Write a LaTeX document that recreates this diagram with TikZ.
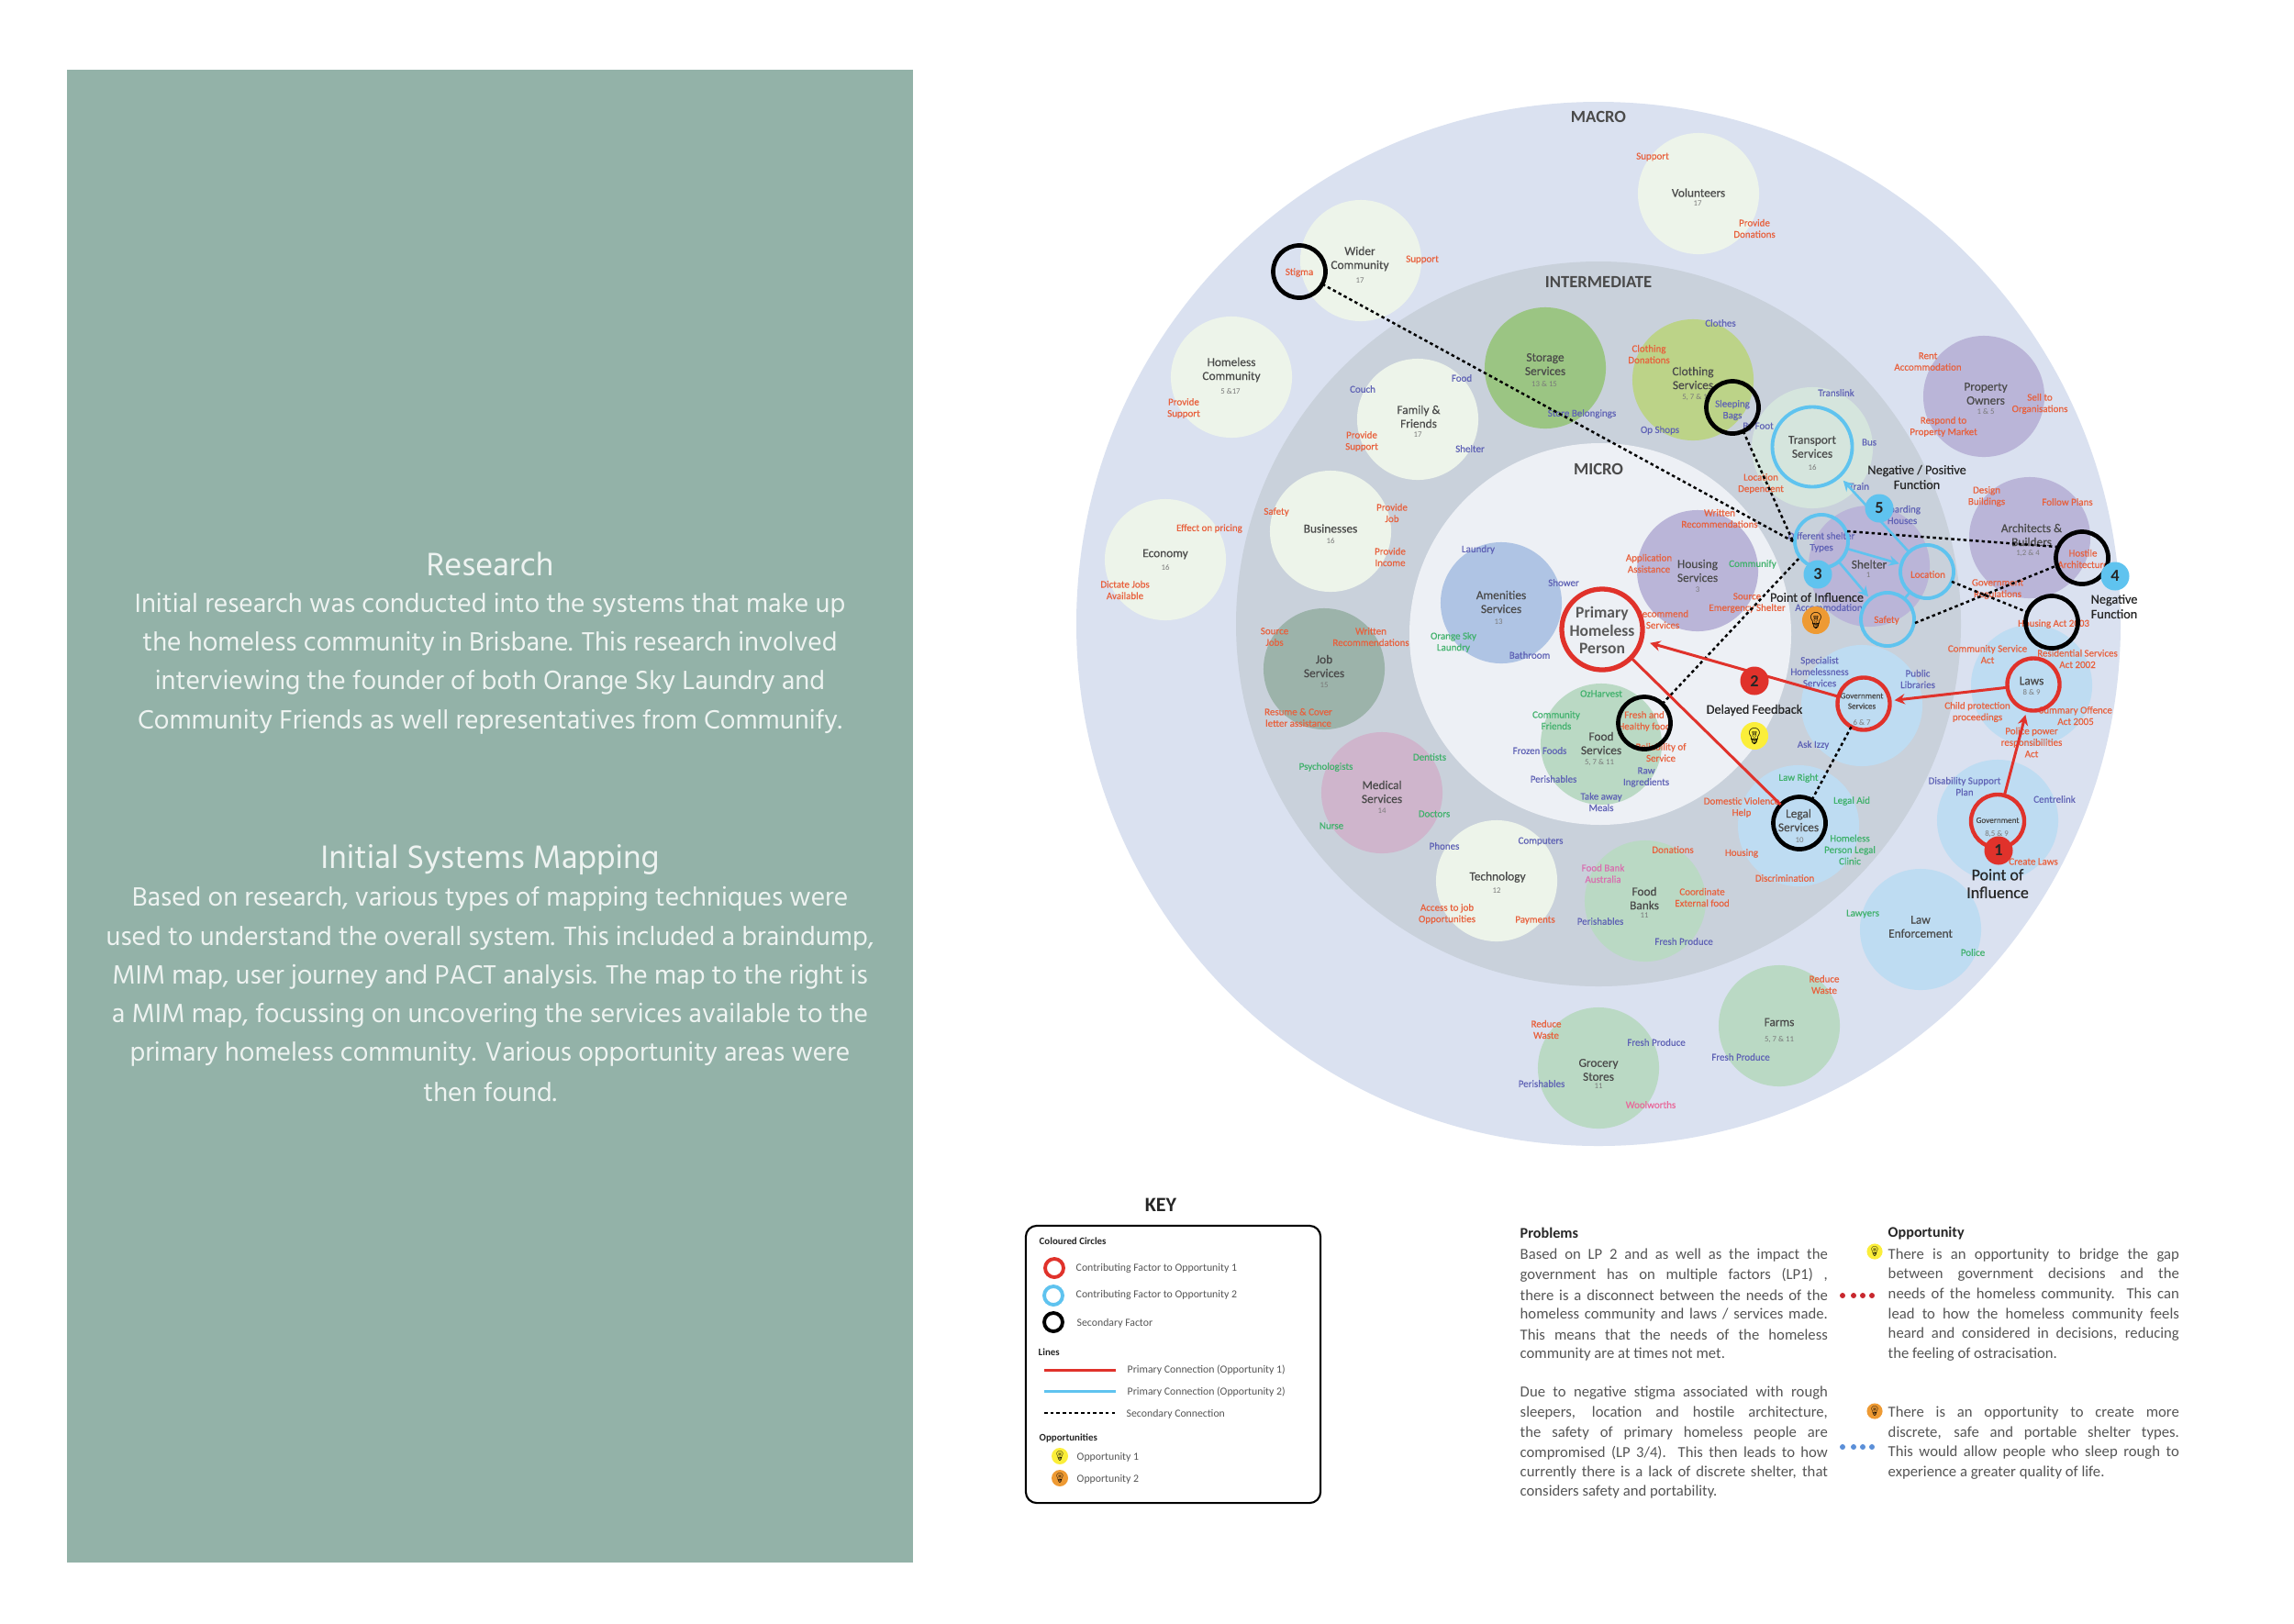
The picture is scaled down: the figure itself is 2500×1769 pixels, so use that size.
\documentclass[tikz,border=0pt]{standalone}
\usepackage{fontspec}
\setmainfont{Carlito}
\newfontfamily\panelf{Hind Madurai}
\newfontfamily\emo{Noto Emoji}
\newfontfamily\lf[FakeBold=0.3]{Carlito}
\usetikzlibrary{arrows.meta}
\definecolor{panel}{HTML}{93B2A8}
\definecolor{panelt}{HTML}{EEF3F1}
\definecolor{macroc}{HTML}{DAE1F0}
\definecolor{interc}{HTML}{C9D1DB}
\definecolor{microc}{HTML}{EDF0F5}
\definecolor{paleg}{HTML}{EDF4EA}
\definecolor{storg}{HTML}{9BC583}
\definecolor{cloth}{HTML}{BCD388}
\definecolor{trans}{HTML}{D5E5DD}
\definecolor{purp}{HTML}{BAB5D8}
\definecolor{jobc}{HTML}{9CB3AA}
\definecolor{medc}{HTML}{CFB5CC}
\definecolor{amen}{HTML}{AFC4E4}
\definecolor{foodc}{HTML}{BAD9C4}
\definecolor{lawc}{HTML}{BEDCF2}
\definecolor{lred}{HTML}{E8603C}
\definecolor{lblue}{HTML}{5F62B5}
\definecolor{lgreen}{HTML}{3FB16B}
\definecolor{lpink}{HTML}{D96FB0}
\definecolor{lwool}{HTML}{E9689A}
\definecolor{rred}{HTML}{E0322B}
\definecolor{rblue}{HTML}{5FC3EF}
\definecolor{dotr}{HTML}{C8282E}
\definecolor{dotb}{HTML}{5B8FD8}
\definecolor{txtg}{HTML}{4A4A4A}
\definecolor{numg}{HTML}{7A7A7A}
\definecolor{bodyg}{HTML}{555555}
\definecolor{yel}{HTML}{FBEE3A}
\definecolor{org}{HTML}{EE9A33}
\tikzset{
  blob/.style={circle,fill=#1,draw=none,minimum size=1.32cm,inner sep=0pt,outer sep=0pt},
  ringk/.style={circle,draw=black,line width=1.34pt,minimum size=.57cm,inner sep=0pt,outer sep=0pt},
  ringb/.style={circle,draw=rblue,line width=1.1pt,minimum size=.58cm,inner sep=0pt,outer sep=0pt},
  ringr/.style={circle,draw=rred,line width=1.25pt,minimum size=.57cm,inner sep=0pt,outer sep=0pt},
  badge/.style={circle,fill=#1,minimum size=.31cm,inner sep=0pt,outer sep=0pt,font=\fontsize{5.2pt}{6pt}\selectfont\bfseries,text=black!85},
  lbase/.style={align=center,inner sep=0pt,font=\fontsize{3.12pt}{3.55pt}\selectfont\lf},
  red/.style={lbase,text=lred},
  blu/.style={lbase,text=lblue},
  grn/.style={lbase,text=lgreen},
  pnk/.style={lbase,text=lpink},
  wol/.style={lbase,text=lwool},
  svc/.style={text=txtg,align=center,inner sep=0pt,font=\fontsize{3.8pt}{4.28pt}\selectfont\lf},
  sml/.style={text=txtg,align=center,inner sep=0pt,font=\fontsize{2.6pt}{3.2pt}\selectfont\lf},
  num/.style={text=numg,align=center,inner sep=0pt,font=\fontsize{2.5pt}{3pt}\selectfont},
  lvl/.style={text=txtg,inner sep=0pt,font=\fontsize{5.3pt}{5.8pt}\selectfont\bfseries},
  blk/.style={text=black!85,align=center,inner sep=0pt,font=\fontsize{4.05pt}{4.6pt}\selectfont\lf},
  blkb/.style={text=black!85,align=center,inner sep=0pt,font=\fontsize{5.1pt}{5.5pt}\selectfont\lf},
  ptitle/.style={text=panelt,inner sep=0pt,font=\fontsize{10.3pt}{12pt}\selectfont\panelf},
  ptitleb/.style={ptitle,yshift=-.03cm},
  pbody/.style={text=panelt,inner sep=0pt,yshift=-.03cm,font=\fontsize{8.4pt}{12pt}\selectfont\panelf},
  keyh/.style={text=black!85,anchor=west,inner sep=0pt,yshift=-.015cm,font=\fontsize{3.1pt}{3.6pt}\selectfont\bfseries},
  keyt/.style={text=bodyg,anchor=west,inner sep=0pt,yshift=-.02cm,font=\fontsize{3.35pt}{3.8pt}\selectfont},
  bodyh/.style={text=black!85,anchor=west,inner sep=0pt,font=\fontsize{4.6pt}{5pt}\selectfont\bfseries},
  bodyt/.style={text=bodyg,anchor=west,inner sep=0pt,yshift=-.015cm,font=\fontsize{4.75pt}{5.5pt}\selectfont},
  bulb/.style={circle,fill=#1,minimum size=.3cm,inner sep=0pt,outer sep=0pt,text=black,font=\fontsize{5pt}{5pt}\selectfont\emo},
  dashc/.style={draw=black,line width=.7pt,dash pattern=on 1pt off .9pt},
  redc/.style={draw=rred,line width=.85pt},
  bluc/.style={draw=rblue,line width=.75pt},
  tipc/.style={-{Stealth[length=3.2pt,width=3.2pt]}},
}
\newcount\labn
\newcommand\tx[4]{\global\advance\labn by 1 \node[#1] (t\the\labn) at (#2,#3) {#4};}
\newcommand\jl[2]{\hbox to #1{\spaceskip=.22em plus 1em minus .12em\relax #2}}
\begin{document}
\begin{tikzpicture}[x=.01cm,y=-.01cm]
\useasboundingbox (0,0) rectangle (2500,1769);
\fill[white] (0,0) rectangle (2500,1769);
% left panel
\fill[panel] (73,76) rectangle (995,1703);
\tx{ptitle}{534}{615}{Research}
\tx{pbody}{534}{657}{Initial research was conducted into the systems that make up}
\tx{pbody}{534}{698}{the homeless community in Brisbane. This research involved}
\tx{pbody}{534}{741}{interviewing the founder of both Orange Sky Laundry and}
\tx{pbody}{534}{784}{Community Friends as well representatives from Communify.}
\tx{ptitleb}{534}{934}{Initial Systems Mapping}
\tx{pbody}{534}{977}{Based on research, various types of mapping techniques were}
\tx{pbody}{534}{1020}{used to understand the overall system. This included a braindump,}
\tx{pbody}{534}{1062}{MIM map, user journey and PACT analysis. The map to the right is}
\tx{pbody}{534}{1104}{a MIM map, focussing on uncovering the services available to the}
\tx{pbody}{534}{1146}{primary homeless community. Various opportunity areas were}
\tx{pbody}{534}{1187}{then found.}
% rings of the map
\fill[macroc] (1742,680) circle (569);
\fill[interc] (1742,680) circle (395);
\fill[microc] (1744,691) circle (208);
\tx{lvl}{1742}{127}{MACRO}
\tx{lvl}{1742}{307}{INTERMEDIATE}
\tx{lvl}{1742}{511}{MICRO}
% service blobs
\node[blob=paleg] (bWider) at (1483,284) {};
\node[blob=paleg] (bHomeless) at (1342,411) {};
\node[blob=paleg] (bFamily) at (1545,457) {};
\node[blob=storg] (bStorage) at (1684,401) {};
\node[blob=paleg] (bVol) at (1851,211) {};
\node[blob=cloth] (bCloth) at (1845,414) {};
\node[blob=trans] (bTrans) at (1975,488) {};
\node[blob=purp] (bProp) at (2162,432) {};
\node[blob=paleg] (bEcon) at (1270,610) {};
\node[blob=paleg] (bBus) at (1450,579) {};
\node[blob=amen] (bAmen) at (1636,657) {};
\node[blob=jobc] (bJob) at (1443,729) {};
\node[blob=medc] (bMed) at (1506,864) {};
\node[blob=foodc] (bFood) at (1745,811) {};
\node[blob=purp] (bHous) at (1850,622) {};
\node[blob=purp] (bShel) at (2037,617) {};
\node[blob=purp] (bArch) at (2212,586) {};
\node[blob=lawc] (bGovS) at (2029,769) {};
\node[blob=lawc] (bLaws) at (2214,747) {};
\node[blob=lawc] (bLegal) at (1960,900) {};
\node[blob=lawc] (bGov) at (2177,894) {};
\node[blob=lawc] (bEnf) at (2093,1013) {};
\node[blob=foodc] (bFarm) at (1939,1118) {};
\node[blob=foodc] (bGroc) at (1742,1164) {};
\node[blob=foodc] (bBank) at (1793,982) {};
\node[blob=paleg] (bTech) at (1631,960) {};
% service names and numbers
\tx{svc}{1482}{282}{Wider\\Community}\tx{num}{1482}{306}{17}
\tx{svc}{1342}{403}{Homeless\\Community}\tx{num}{1341}{427}{5 \&17}
\tx{svc}{1546}{454}{Family \&\\Friends}\tx{num}{1545}{474}{17}
\tx{svc}{1684}{397}{Storage\\Services}\tx{num}{1683}{419}{13 \& 15}
\tx{svc}{1851}{210}{Volunteers}\tx{num}{1850}{222}{17}
\tx{svc}{1845}{412}{Clothing\\Services}\tx{num}{1847}{433}{5, 7 \& 1}
\tx{svc}{1975}{487}{Transport\\Services}\tx{num}{1975}{510}{16}
\tx{svc}{2164}{429}{Property\\Owners}\tx{num}{2164}{449}{1 \& 5}
\tx{svc}{1270}{604}{Economy}\tx{num}{1270}{619}{16}
\tx{svc}{1450}{576}{Businesses}\tx{num}{1450}{590}{16}
\tx{svc}{1636}{656}{Amenities\\Services}\tx{num}{1633}{678}{13}
\tx{svc}{1443}{726}{Job\\Services}\tx{num}{1443}{747}{15}
\tx{svc}{1506}{863}{Medical\\Services}\tx{num}{1506}{884}{14}
\tx{svc}{1745}{810}{Food\\Services}\tx{num}{1743}{831}{5, 7 \& 11}
\tx{svc}{1850}{622}{Housing\\Services}\tx{num}{1850}{643}{3}
\tx{svc}{2037}{615}{Shelter}\tx{num}{2036}{627}{1}
\tx{svc}{2214}{583}{Architects \&\\Builders}\tx{num}{2210}{603}{1,2 \& 4}
\tx{sml}{2029}{764}{Government\\Services}\tx{num}{2029}{788}{6 \& 7}
\tx{svc}{2214}{742}{Laws}\tx{num}{2214}{755}{8 \& 9}
\tx{svc}{1960}{894}{Legal\\Services}\tx{num}{1961}{916}{10}
\tx{sml}{2177}{894}{Government}\tx{num}{2176}{909}{8,5 \& 9}
\tx{svc}{2093}{1010}{Law\\Enforcement}
\tx{svc}{1939}{1114}{Farms}\tx{num}{1939}{1133}{5, 7 \& 11}
\tx{svc}{1742}{1166}{Grocery\\Stores}\tx{num}{1742}{1184}{11}
\tx{svc}{1792}{979}{Food\\Banks}\tx{num}{1792}{998}{11}
\tx{svc}{1632}{956}{Technology}\tx{num}{1631}{971}{12}
% small labels
\tx{red}{1416}{297}{Stigma}
\tx{red}{1550}{283}{Support}
\tx{red}{1290}{445}{Provide\\Support}
\tx{blu}{1593}{412}{Food}
\tx{blu}{1485}{424}{Couch}
\tx{red}{1484}{481}{Provide\\Support}
\tx{blu}{1602}{489}{Shelter}
\tx{blu}{1724}{451}{Store Belongings}
\tx{red}{1801}{171}{Support}
\tx{red}{1912}{249}{Provide\\Donations}
\tx{blu}{1875}{352}{Clothes}
\tx{red}{1797}{386}{Clothing\\Donations}
\tx{blu}{1888}{447}{Sleeping\\Bags}
\tx{blu}{1809}{469}{Op Shops}
\tx{blu}{1916}{465}{By Foot}
\tx{blu}{2001}{428}{Translink}
\tx{blu}{2037}{482}{Bus}
\tx{red}{2101}{394}{Rent\\Accommodation}
\tx{red}{2223}{440}{Sell to\\Organisations}
\tx{red}{2118}{465}{Respond to\\Property Market}
\tx{red}{1318}{576}{Effect on pricing}
\tx{red}{1226}{643}{Dictate Jobs\\Available}
\tx{red}{1391}{558}{Safety}
\tx{red}{1517}{559}{Provide\\Job}
\tx{red}{1515}{607}{Provide\\Income}
\tx{blu}{1611}{599}{Laundry}
\tx{blu}{1704}{635}{Shower}
\tx{grn}{1584}{700}{Orange Sky\\Laundry}
\tx{blu}{1667}{714}{Bathroom}
\tx{red}{1389}{694}{Source\\Jobs}
\tx{red}{1494}{694}{Written\\Recommendations}
\tx{red}{1415}{782}{Resume \& Cover\\letter assistance}
\tx{grn}{1558}{825}{Dentists}
\tx{grn}{1445}{836}{Psychologists}
\tx{grn}{1563}{887}{Doctors}
\tx{grn}{1451}{900}{Nurse}
\tx{grn}{1745}{756}{OzHarvest}
\tx{grn}{1696}{785}{Community\\Friends}
\tx{blu}{1678}{818}{Frozen Foods}
\tx{blu}{1693}{849}{Perishables}
\tx{blu}{1745}{874}{Take away\\Meals}
\tx{blu}{1794}{847}{Raw\\Ingredients}
\tx{red}{1810}{820}{Reliability of\\Service}
\tx{red}{1792}{786}{Fresh and\\Healthy food}
\tx{blu}{1679}{917}{Computers}
\tx{blu}{1574}{922}{Phones}
\tx{red}{1577}{996}{Access to job\\Opportunities}
\tx{red}{1673}{1003}{Payments}
\tx{red}{1685}{1122}{Reduce\\Waste}
\tx{blu}{1680}{1181}{Perishables}
\tx{blu}{1805}{1136}{Fresh Produce}
\tx{wol}{1799}{1204}{Woolworths}
\tx{red}{1988}{1073}{Reduce\\Waste}
\tx{blu}{1897}{1152}{Fresh Produce}
\tx{red}{1823}{926}{Donations}
\tx{pnk}{1747}{952}{Food Bank\\Australia}
\tx{red}{1855}{978}{Coordinate\\External food}
\tx{blu}{1744}{1004}{Perishables}
\tx{blu}{1835}{1026}{Fresh Produce}
\tx{red}{1898}{930}{Housing}
\tx{red}{1945}{957}{Discrimination}
\tx{grn}{2016}{926}{Homeless\\Person Legal\\Clinic}
\tx{grn}{2030}{996}{Lawyers}
\tx{grn}{2150}{1038}{Police}
\tx{red}{2216}{939}{Create Laws}
\tx{red}{1919}{527}{Location\\Dependent}
\tx{red}{1874}{565}{Written\\Recommendations}
\tx{red}{1797}{614}{Application\\Assistance}
\tx{grn}{1910}{615}{Communify}
\tx{red}{1904}{657}{Source\\Emergency Shelter}
\tx{red}{1812}{675}{Recommend\\Services}
\tx{blu}{1993}{662}{Accommodation}
\tx{blu}{2073}{561}{Boarding\\Houses}
\tx{blu}{1985}{591}{Different shelter\\Types}
\tx{red}{2101}{626}{Location}
\tx{red}{2056}{676}{Safety}
\tx{blu}{2026}{530}{Train}
\tx{red}{2165}{541}{Design\\Buildings}
\tx{red}{2253}{547}{Follow Plans}
\tx{red}{2270}{609}{Hostile\\Architecture}
\tx{red}{2177}{642}{Government\\Regulations}
\tx{red}{2238}{680}{Housing Act 2003}
\tx{red}{2166}{713}{Community Service\\Act}
\tx{red}{2264}{718}{Residential Services\\Act 2002}
\tx{blu}{1983}{732}{Specialist\\Homelessness\\Services}
\tx{blu}{2090}{740}{Public\\Libraries}
\tx{red}{2155}{776}{Child protection\\proceedings}
\tx{red}{2262}{780}{Summary Offence\\Act 2005}
\tx{red}{2214}{809}{Police power\\responsibilities\\Act}
\tx{blu}{1976}{812}{Ask Izzy}
\tx{grn}{1960}{848}{Law Right}
\tx{grn}{2018}{873}{Legal Aid}
\tx{red}{1898}{880}{Domestic Violence\\Help}
\tx{blu}{2141}{857}{Disability Support\\Plan}
\tx{blu}{2239}{871}{Centrelink}
% coloured circles
\node[ringr,minimum size=.88cm,line width=1.5pt] (Primary) at (1746,686) {};
\node[text=black!65,align=center,inner sep=0pt,font=\fontsize{5pt}{5.65pt}\selectfont\bfseries] (PrimaryT) at (1746,687) {Primary\\Homeless\\Person};
\node[ringk] (Stigma) at (1416,296) {};
\node[ringk] (Sleeping) at (1888,444) {};
\node[ringk] (Hostile) at (2269,608) {};
\node[ringk] (Housing) at (2236,678) {};
\node[ringk] (Legal) at (1961,897) {};
\node[ringk] (Fresh) at (1792,788) {};
\node[ringb,minimum size=.87cm] (Transport) at (1975,487) {};
\node[ringb] (Types) at (1985,590) {};
\node[ringb] (Location) at (2100,623) {};
\node[ringb] (Safety) at (2057,675) {};
\node[ringr] (Laws) at (2216,746) {};
\node[ringr] (GovServ) at (2031,767) {};
\node[ringr,minimum size=.58cm] (Gov) at (2177,895) {};
% free ends of the dashed connectors on the ring edges
\coordinate (TypesW) at (1954,590);
\coordinate (TypesSW) at (1960,609);
\coordinate (TypesNE) at (2013,579);
\coordinate (HostileW) at (2242,596);
\coordinate (HostileSW) at (2240,617);
\coordinate (SafetyE) at (2087,679);
% connectors
\draw[dashc] (Stigma) -- (TypesW);
\draw[dashc] (Sleeping) -- (TypesW);
\draw[dashc] (Fresh) -- (TypesSW);
\draw[dashc] (TypesNE) -- (HostileW);
\draw[dashc] (SafetyE) -- (HostileSW);
\draw[dashc] (Location) -- (Housing);
\draw[dashc] (GovServ) -- (Legal);
\draw[redc,tipc,shorten >=1.6pt] (Gov) -- (Laws);
\draw[redc,tipc,shorten >=1.5pt] (Laws) -- (GovServ);
\draw[redc,tipc,shorten >=2.9pt] (GovServ) -- (Primary);
\draw[redc] (Primary) -- (Legal);
\draw[bluc,tipc,shorten >=1.8pt] (Location) -- (Transport);
\draw[bluc,tipc,shorten >=.7pt] (Types) -- (Location);
\draw[bluc,tipc,shorten >=.9pt] (Types) -- (Safety);
\draw[bluc] (Location) -- (Safety);
% badges and callouts
\node[badge=rred] (B1) at (2178,927) {1};
\node[badge=rred] (B2) at (1912,742) {2};
\node[badge=rblue] (B3) at (1981,626) {3};
\node[badge=rblue] (B4) at (2305,628) {4};
\node[badge=rblue] (B5) at (2048,554) {5};
\node[bulb=org] (Bulb2) at (1979,676) {💡};
\node[bulb=yel] (Bulb1) at (1912,802) {💡};
\tx{blk}{2089}{520}{Negative / Positive\\Function}
\tx{blk}{1980}{651}{Point of Influence}
\tx{blk}{2304}{661}{Negative\\Function}
\tx{blk}{1912}{774}{Delayed Feedback}
\tx{blkb}{2177}{963}{Point of\\Influence}
% key
\node[text=black!85,inner sep=0pt,yshift=-.015cm,font=\fontsize{6.3pt}{7pt}\selectfont\bfseries] (KeyT) at (1265,1312) {KEY};
\node[draw=black,line width=.6pt,rounded corners=3.4pt,minimum width=3.21cm,minimum height=3.02cm,inner sep=0pt,outer sep=0pt] (KeyBox) at (1278.5,1487) {};
\tx{keyh}{1132}{1351}{Coloured Circles}
\node[circle,draw=rred,line width=1.1pt,minimum size=.2cm,inner sep=0pt] (kr) at (1149,1382) {};
\node[circle,draw=rblue,line width=1.1pt,minimum size=.2cm,inner sep=0pt] (kb) at (1148,1412) {};
\node[circle,draw=black,line width=1.1pt,minimum size=.2cm,inner sep=0pt] (kk) at (1148,1441) {};
\tx{keyt}{1172}{1380}{Contributing Factor to Opportunity 1}
\tx{keyt}{1172}{1409}{Contributing Factor to Opportunity 2}
\tx{keyt}{1173}{1440}{Secondary Factor}
\tx{keyh}{1131}{1472}{Lines}
\coordinate (l1a) at (1138,1493);\coordinate (l1b) at (1216,1493);
\coordinate (l2a) at (1138,1516);\coordinate (l2b) at (1216,1516);
\coordinate (l3a) at (1138,1540);\coordinate (l3b) at (1216,1540);
\draw[redc] (l1a) -- (l1b);
\draw[bluc,line width=.85pt] (l2a) -- (l2b);
\draw[dashc] (l3a) -- (l3b);
\tx{keyt}{1228}{1491}{Primary Connection (Opportunity 1)}
\tx{keyt}{1228}{1515}{Primary Connection (Opportunity 2)}
\tx{keyt}{1227}{1539}{Secondary Connection}
\tx{keyh}{1132}{1566}{Opportunities}
\node[bulb=yel,minimum size=.18cm,font=\fontsize{3pt}{3pt}\selectfont\emo] (kb1) at (1155,1587) {💡};
\node[bulb=org,minimum size=.18cm,font=\fontsize{3pt}{3pt}\selectfont\emo] (kb2) at (1155,1611) {💡};
\tx{keyt}{1173}{1586}{Opportunity 1}
\tx{keyt}{1173}{1610}{Opportunity 2}
% problems
\tx{bodyh}{1656}{1344}{Problems}
\tx{bodyt}{1656}{1367}{\jl{3.35cm}{Based on LP 2 and as well as the impact the}}
\tx{bodyt}{1656}{1388}{\jl{3.35cm}{government has on multiple factors (LP1) ,}}
\tx{bodyt}{1656}{1410}{\jl{3.35cm}{there is a disconnect between the needs of the}}
\tx{bodyt}{1656}{1432}{\jl{3.35cm}{homeless community and laws / services made.}}
\tx{bodyt}{1656}{1453}{\jl{3.35cm}{This means that the needs of the homeless}}
\tx{bodyt}{1656}{1475}{community are at times not met.}
\tx{bodyt}{1656}{1517}{\jl{3.35cm}{Due to negative stigma associated with rough}}
\tx{bodyt}{1656}{1539}{\jl{3.35cm}{sleepers, location and hostile architecture,}}
\tx{bodyt}{1656}{1561}{\jl{3.35cm}{the safety of primary homeless people are}}
\tx{bodyt}{1656}{1582}{\jl{3.35cm}{compromised (LP 3/4). This then leads to how}}
\tx{bodyt}{1656}{1604}{\jl{3.35cm}{currently there is a lack of discrete shelter, that}}
\tx{bodyt}{1656}{1625}{considers safety and portability.}
% opportunity
\tx{bodyh}{2057}{1344}{Opportunity}
\tx{bodyt}{2057}{1367}{\jl{3.17cm}{There is an opportunity to bridge the gap}}
\tx{bodyt}{2057}{1388}{\jl{3.17cm}{between government decisions and the}}
\tx{bodyt}{2057}{1410}{\jl{3.17cm}{needs of the homeless community. This can}}
\tx{bodyt}{2057}{1432}{\jl{3.17cm}{lead to how the homeless community feels}}
\tx{bodyt}{2057}{1453}{\jl{3.17cm}{heard and considered in decisions, reducing}}
\tx{bodyt}{2057}{1475}{the feeling of ostracisation.}
\tx{bodyt}{2057}{1539}{\jl{3.17cm}{There is an opportunity to create more}}
\tx{bodyt}{2057}{1561}{\jl{3.17cm}{discrete, safe and portable shelter types.}}
\tx{bodyt}{2057}{1582}{\jl{3.17cm}{This would allow people who sleep rough to}}
\tx{bodyt}{2057}{1604}{experience a greater quality of life.}
\node[bulb=yel,minimum size=.17cm,font=\fontsize{3pt}{3pt}\selectfont\emo] (ob1) at (2043,1364) {💡};
\node[bulb=org,minimum size=.17cm,font=\fontsize{3pt}{3pt}\selectfont\emo] (ob2) at (2043,1538) {💡};
\fill[dotr] (2008,1412) circle (3) (2020,1412) circle (3) (2030,1412) circle (3) (2040,1412) circle (3);
\fill[dotb] (2008,1577) circle (3) (2020,1577) circle (3) (2030,1577) circle (3) (2040,1577) circle (3);
\end{tikzpicture}
\end{document}
